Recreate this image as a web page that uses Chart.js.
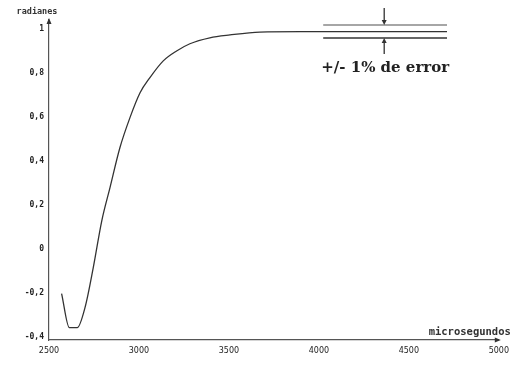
<!DOCTYPE html>
<html>
<head>
<meta charset="utf-8">
<script src="https://cdn.jsdelivr.net/npm/chart.js"></script>
<style>
  html, body { margin: 0; padding: 0; background: #fff; }
  canvas { display: block; }
</style>
</head>
<body>
<canvas id="chart" width="515" height="365"></canvas>
<script>
// Step response
const timeUs = [2570, 2613, 2657, 2700, 2746, 2793, 2839, 2894, 2950, 3006, 3061, 3135, 3209, 3283, 3394, 3506, 3672, 3900, 4200, 4500, 4712];
const radians = [-0.203, -0.358, -0.358, -0.267, -0.085, 0.127, 0.279, 0.46, 0.597, 0.71, 0.779, 0.855, 0.9, 0.933, 0.96, 0.973, 0.986, 0.988, 0.988, 0.988, 0.988];

// +/- tolerance band
const bandX = [4024, 4712];
const bandUpper = 1.018;
const bandLower = 0.959;
const arrowX = 4363;
const arrowDown = [1.095, 1.018];
const arrowUp = [0.886, 0.959];
const bandLabel = '+/- 1% de error';

const xTicks = [2500, 3000, 3500, 4000, 4500, 5000];
const yTicks = [-0.4, -0.2, 0, 0.2, 0.4, 0.6, 0.8, 1];
const xTitle = 'microsegundos';
const yTitle = 'radianes';

const ink = '#333';

// Labels, axis arrowheads and tolerance arrows
const extras = {
    id: 'extras',
    afterDraw(chart) {
        const ctx = chart.ctx;
        const xs = chart.scales.x, ys = chart.scales.y;
        const area = chart.chartArea;
        ctx.save();
        ctx.fillStyle = ink;
        ctx.strokeStyle = ink;

        // axis arrowheads
        ctx.beginPath();
        ctx.moveTo(area.left, area.top - 2);
        ctx.lineTo(area.left - 2.5, area.top + 4);
        ctx.lineTo(area.left + 2.5, area.top + 4);
        ctx.closePath();
        ctx.fill();
        ctx.beginPath();
        ctx.moveTo(area.right + 2, area.bottom);
        ctx.lineTo(area.right - 4, area.bottom - 2.5);
        ctx.lineTo(area.right - 4, area.bottom + 2.5);
        ctx.closePath();
        ctx.fill();

        // axis names
        ctx.textBaseline = 'middle';
        ctx.textAlign = 'center';
        ctx.font = 'bold 8.5px "DejaVu Sans Mono"';
        ctx.fillText(yTitle, area.left - 12, area.top - 8);
        ctx.textAlign = 'right';
        ctx.font = 'bold 10.5px "DejaVu Sans Mono"';
        ctx.fillText(xTitle, area.right + 12, area.bottom - 8);

        // tolerance arrows
        const ax = xs.getPixelForValue(arrowX);
        [arrowDown, arrowUp].forEach(([from, to]) => {
            const y0 = ys.getPixelForValue(from), y1 = ys.getPixelForValue(to);
            const dir = Math.sign(y1 - y0);
            ctx.lineWidth = 1.3;
            ctx.beginPath();
            ctx.moveTo(ax, y0);
            ctx.lineTo(ax, y1 - dir * 3);
            ctx.stroke();
            ctx.beginPath();
            ctx.moveTo(ax, y1);
            ctx.lineTo(ax - 2.5, y1 - dir * 5);
            ctx.lineTo(ax + 2.5, y1 - dir * 5);
            ctx.closePath();
            ctx.fill();
        });

        // band label
        ctx.font = 'bold 15px "DejaVu Serif"';
        ctx.textAlign = 'left';
        ctx.fillStyle = '#222';
        ctx.fillText(bandLabel, xs.getPixelForValue(bandX[0]) - 2, ys.getPixelForValue(0.823));
        ctx.restore();
    }
};

const fmt = v => String(Number(v.toFixed(1))).replace('.', ',');

new Chart(document.getElementById('chart'), {
    type: 'scatter',
    data: {
        datasets: [
            {
                data: timeUs.map((t, i) => ({ x: t, y: radians[i] })),
                showLine: true,
                borderColor: ink,
                borderWidth: 1.3,
                pointRadius: 0,
                cubicInterpolationMode: 'monotone'
            },
            {
                data: bandX.map(t => ({ x: t, y: bandUpper })),
                showLine: true,
                borderColor: '#888',
                borderWidth: 1.6,
                pointRadius: 0
            },
            {
                data: bandX.map(t => ({ x: t, y: bandLower })),
                showLine: true,
                borderColor: '#666',
                borderWidth: 2,
                pointRadius: 0
            }
        ]
    },
    options: {
        responsive: false,
        animation: false,
        devicePixelRatio: 1,
        layout: { padding: { top: 20, right: 15, left: 0, bottom: 0 } },
        plugins: { legend: { display: false }, tooltip: { enabled: false } },
        scales: {
            x: {
                type: 'linear',
                min: 2500,
                max: 5000,
                afterBuildTicks: s => { s.ticks = xTicks.map(v => ({ value: v })); },
                afterFit: s => { s.height = 25; },
                grid: { display: false, drawTicks: false },
                border: { display: true, color: '#555', width: 1.2 },
                ticks: {
                    color: '#222',
                    font: { family: 'DejaVu Sans', size: 8 },
                    padding: 6,
                    maxRotation: 0,
                    callback: v => String(v)
                }
            },
            y: {
                min: -0.414,
                max: 1.041,
                afterBuildTicks: s => { s.ticks = yTicks.map(v => ({ value: v })); },
                afterFit: s => { s.width = 49; },
                grid: { display: false, drawTicks: false },
                border: { display: true, color: '#555', width: 1.2 },
                ticks: {
                    color: '#222',
                    font: { family: 'DejaVu Sans Mono', size: 8, weight: 'bold' },
                    padding: 5,
                    callback: v => fmt(v)
                }
            }
        }
    },
    plugins: [extras]
});
</script>
</body>
</html>
